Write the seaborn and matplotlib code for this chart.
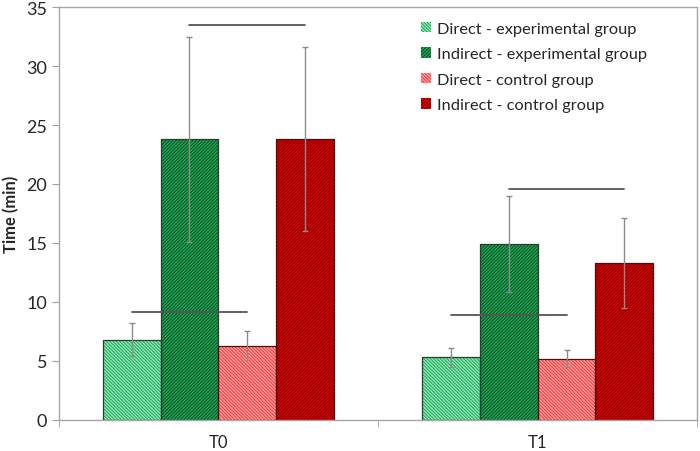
"""
Bar chart of task time (min) for direct / indirect tasks, experimental vs control group.
"""

import matplotlib
matplotlib.use("Agg")
import matplotlib.pyplot as plt
from matplotlib.patches import Patch, Rectangle
import pandas as pd
import seaborn as sns

times = ["T0", "T1"]
groups = ["Direct - experimental group", "Indirect - experimental group",
          "Direct - control group", "Indirect - control group"]

direct_exp = [6.8, 5.3]
indirect_exp = [23.8, 14.9]
direct_ctrl = [6.3, 5.2]
indirect_ctrl = [23.8, 13.3]

direct_exp_err = [1.4, 0.8]
indirect_exp_err = [8.7, 4.1]
direct_ctrl_err = [1.2, 0.7]
indirect_ctrl_err = [7.8, 3.8]

# significance lines: (time index, first group, second group, height)
sig_lines = [(0, 1, 3, 33.5), (0, 0, 2, 9.15), (1, 1, 3, 19.6), (1, 0, 2, 8.9)]

fills = ["#2cb868", "#1ea453", "#ff4444", "#dc0000"]
stripes = ["#b4f0cc", "#0a4a22", "#ffc0c0", "#780000"]
hatches = ["\\" * 10, "/" * 10, "\\" * 10, "/" * 10]

means = [direct_exp, indirect_exp, direct_ctrl, indirect_ctrl]
errs = [direct_exp_err, indirect_exp_err, direct_ctrl_err, indirect_ctrl_err]

rows = []
for g, vals in zip(groups, means):
    for t, v in zip(times, vals):
        rows.append({"time": t, "group": g, "mean": v})
df = pd.DataFrame(rows)

sns.set_style("white")
plt.rcParams["font.family"] = ["Lato", "DejaVu Sans"]
plt.rcParams["hatch.linewidth"] = 0.65

fig = plt.figure(figsize=(7, 4.52), dpi=100)
ax = fig.add_axes([0.084, 0.069, 0.912, 0.913])

sns.barplot(data=df, x="time", y="mean", hue="group", hue_order=groups,
            palette=fills, width=0.725, errorbar=None, legend=False,
            saturation=1, ax=ax)

bar_groups = list(ax.containers)
centers = []
for i, cont in enumerate(bar_groups):
    xs = []
    for bar in cont:
        bar.set_hatch(hatches[i])
        bar.set_edgecolor(stripes[i])
        bar.set_linewidth(0)
        ax.add_patch(Rectangle(bar.get_xy(), bar.get_width(), bar.get_height(),
                               facecolor="none", edgecolor="#2b3b30" if i < 2 else "#4a1010",
                               linewidth=0.9, zorder=bar.get_zorder() + 0.1))
        xs.append(bar.get_x() + bar.get_width() / 2)
    centers.append(xs)
    ax.errorbar(xs, means[i], yerr=errs[i], fmt="none", ecolor="#8c8c8c",
                elinewidth=1, capsize=2, capthick=1, zorder=5)

for t, a, b, h in sig_lines:
    ax.plot([centers[a][t], centers[b][t]], [h, h], color="#555555", lw=1.3, zorder=6)

ax.set_ylim(0, 35)
ax.set_xlim(-0.5, 1.5)
ax.set_yticks(range(0, 36, 5))
ax.set_xlabel("")
ax.set_ylabel("Time (min)", fontsize=12, fontweight="bold", labelpad=5)
ax.tick_params(axis="y", labelsize=13, length=5, color="#a0a0a0", direction="out", left=True)
ax.tick_params(axis="x", which="major", labelsize=12, length=0, pad=10)
ax.set_xticks([-0.5, 0.5, 1.5], minor=True)
ax.tick_params(axis="x", which="minor", length=5, color="#a0a0a0", direction="out", bottom=True)
for s in ax.spines.values():
    s.set_color("#a6a6a6")
    s.set_linewidth(1)

handles = [Patch(facecolor=fills[i], edgecolor=stripes[i], hatch=hatches[i], linewidth=0)
           for i in range(4)]
ax.legend(handles, groups, loc="upper right", frameon=False, fontsize=11.8,
          handlelength=0.6, handleheight=0.6, handletextpad=0.4,
          labelspacing=0.7, bbox_to_anchor=(0.945, 1.0))

fig.savefig("out.png", dpi=100)
